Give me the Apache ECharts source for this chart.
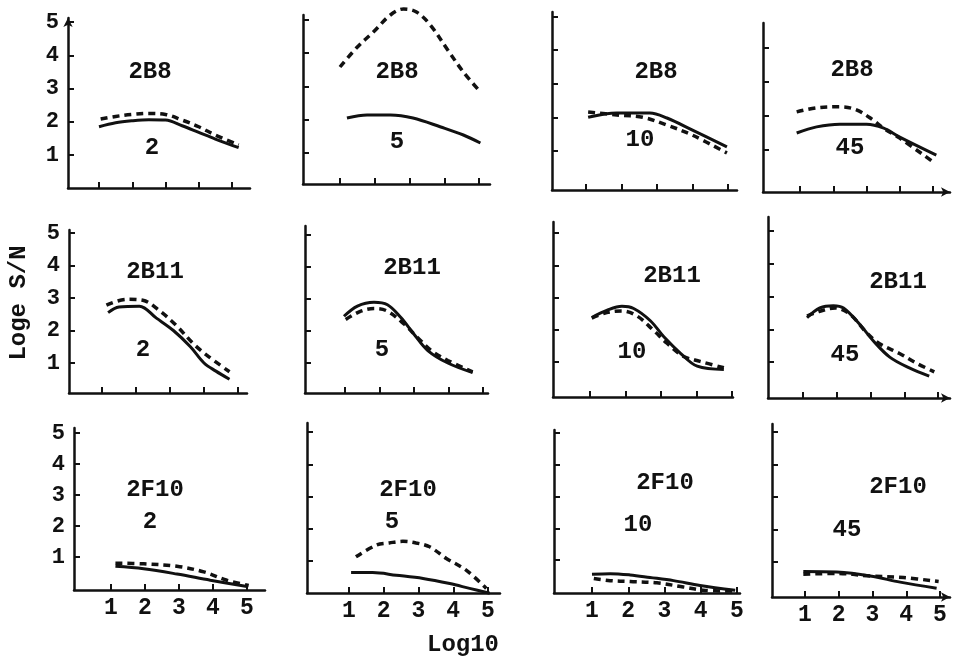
<!DOCTYPE html>
<html>
<head>
<meta charset="utf-8">
<style>
html, body { margin: 0; padding: 0; background: #fff; }
#main { width: 956px; height: 659px; }
</style>
</head>
<body>
<div id="main"></div>
<script src="https://cdn.jsdelivr.net/npm/echarts@6/dist/echarts.min.js"></script>
<script>
var samples = ['2B8', '2B11', '2F10'];
var doses = ['2', '5', '10', '45'];
var xTicks = [1, 2, 3, 4, 5];
var yTicks = [1, 2, 3, 4, 5];

// 2B8, solid / dashed, [log10, loge S/N]
var s2B8_2 = [[1.0, 1.85], [1.5, 1.97], [2, 2.03], [2.5, 2.06], [3, 2.05], [3.5, 1.88], [4, 1.68], [4.5, 1.48], [5.2, 1.22]];
var d2B8_2 = [[1.05, 2.08], [1.5, 2.16], [2, 2.22], [2.5, 2.25], [3, 2.22], [3.5, 2.05], [4, 1.85], [4.5, 1.6], [5.2, 1.3]];
var s2B8_5 = [[1.2, 2.05], [1.78, 2.14], [2.45, 2.14], [3.1, 2.05], [3.9, 1.78], [4.55, 1.54], [5.04, 1.3]];
var d2B8_5 = [[1.0, 3.58], [1.5, 4.18], [1.96, 4.63], [2.45, 5.14], [2.83, 5.32], [3.2, 5.23], [3.6, 4.84], [4.1, 4.09], [4.55, 3.43], [5.04, 2.83]];
var s2B8_10 = [[1.06, 2.0], [1.87, 2.13], [2.8, 2.13], [3.28, 1.98], [4.0, 1.62], [4.97, 1.12]];
var d2B8_10 = [[1.06, 2.16], [1.87, 2.07], [2.6, 2.0], [3.28, 1.77], [4.0, 1.47], [4.97, 0.94]];
var s2B8_45 = [[0.9, 1.5], [1.5, 1.68], [2.2, 1.76], [3.0, 1.76], [3.5, 1.65], [4.0, 1.38], [5.1, 0.85]];
var d2B8_45 = [[0.9, 2.12], [1.5, 2.24], [2.2, 2.27], [2.7, 2.18], [3.2, 1.88], [3.5, 1.65], [4.0, 1.35], [5.0, 0.65]];

// 2B11
var s2B11_2 = [[1.18, 2.55], [1.5, 2.72], [2.1, 2.75], [2.6, 2.38], [3.1, 2.0], [3.6, 1.5], [4.0, 1.0], [4.35, 0.75], [4.75, 0.5]];
var d2B11_2 = [[1.13, 2.78], [1.72, 2.96], [2.2, 2.93], [2.7, 2.6], [3.19, 2.15], [3.68, 1.6], [4.07, 1.25], [4.75, 0.73]];
var s2B11_5 = [[0.97, 2.46], [1.36, 2.78], [1.84, 2.9], [2.23, 2.82], [2.62, 2.42], [3.0, 1.9], [3.4, 1.39], [3.98, 1.0], [4.7, 0.7]];
var d2B11_5 = [[1.02, 2.36], [1.46, 2.62], [1.84, 2.7], [2.23, 2.62], [2.72, 2.21], [3.1, 1.8], [3.5, 1.39], [3.98, 1.08], [4.7, 0.72]];
var s2B11_10 = [[1.05, 2.38], [1.47, 2.6], [1.9, 2.73], [2.23, 2.66], [2.7, 2.28], [3.08, 1.78], [3.55, 1.27], [4.02, 0.87], [4.77, 0.77]];
var d2B11_10 = [[1.05, 2.36], [1.47, 2.53], [1.9, 2.58], [2.32, 2.43], [2.79, 1.98], [3.17, 1.58], [3.64, 1.17], [4.1, 1.02], [4.77, 0.82]];
var s2B11_45 = [[1.12, 2.35], [1.5, 2.65], [1.9, 2.72], [2.2, 2.65], [2.68, 2.15], [3.08, 1.65], [3.57, 1.15], [4.15, 0.82], [4.74, 0.57]];
var d2B11_45 = [[1.12, 2.4], [1.5, 2.55], [1.95, 2.65], [2.4, 2.45], [2.88, 1.9], [3.27, 1.56], [3.86, 1.26], [4.35, 0.97], [4.89, 0.7]];

// 2F10
var s2F10_2 = [[1.13, 0.7], [1.96, 0.62], [2.94, 0.45], [3.92, 0.25], [5.0, 0.05]];
var d2F10_2 = [[1.13, 0.8], [1.96, 0.78], [2.94, 0.7], [3.73, 0.52], [4.41, 0.25], [5.05, 0.08]];
var s2F10_5 = [[1.06, 0.64], [1.68, 0.64], [2.36, 0.56], [3.13, 0.46], [3.9, 0.3], [4.47, 0.15], [5.05, 0.0]];
var d2F10_5 = [[1.2, 1.13], [1.78, 1.49], [2.16, 1.56], [2.55, 1.61], [2.93, 1.56], [3.32, 1.44], [3.8, 1.08], [4.38, 0.71], [4.95, 0.15]];
var s2F10_10 = [[1.0, 0.55], [1.5, 0.57], [2.05, 0.53], [2.6, 0.45], [3.25, 0.35], [3.98, 0.2], [4.95, 0.05]];
var d2F10_10 = [[1.05, 0.42], [1.5, 0.35], [2.05, 0.32], [2.79, 0.28], [3.52, 0.15], [4.07, 0.05], [4.9, 0.02]];
var s2F10_45 = [[0.95, 0.71], [1.94, 0.69], [2.93, 0.57], [3.82, 0.38], [4.9, 0.19]];
var d2F10_45 = [[0.95, 0.62], [1.94, 0.65], [2.93, 0.57], [3.92, 0.52], [4.96, 0.4]];

var solidLines = [
    [s2B8_2, s2B8_5, s2B8_10, s2B8_45],
    [s2B11_2, s2B11_5, s2B11_10, s2B11_45],
    [s2F10_2, s2F10_5, s2F10_10, s2F10_45]
];
var dashLines = [
    [d2B8_2, d2B8_5, d2B8_10, d2B8_45],
    [d2B11_2, d2B11_5, d2B11_10, d2B11_45],
    [d2F10_2, d2F10_5, d2F10_10, d2F10_45]
];

// panel frames in px: axis x, axis y, x tick 1, x tick 5, y tick 1, top tick, top tick value, x end, y end
var frames = [
    [68, 188, 99, 232, 155, 22, 5, 250, 18],
    [303, 184, 340, 479, 153, 53, 4, 490, 15],
    [552, 190, 586, 728, 151, 50, 4, 737, 12],
    [763, 192, 800, 933, 150, 48, 4, 950, 23],
    [69, 393, 102, 238, 363, 233, 5, 247, 230],
    [305, 393, 345, 483, 363, 235, 5, 488, 226],
    [553, 397, 590, 732, 362, 233, 5, 733, 222],
    [768, 398, 803, 938, 362, 231, 5, 950, 217],
    [74, 590, 111, 247, 557, 433, 5, 265, 428],
    [307, 593, 349, 488, 561, 432, 5, 500, 423],
    [554, 593, 592, 737, 560, 433, 5, 740, 430],
    [772, 597, 805, 940, 562, 432, 5, 950, 424]
];
var namePos = [[150, 72], [397, 72], [656, 72], [852, 70], [155, 272], [412, 268], [672, 276], [898, 282], [155, 490], [408, 490], [665, 483], [898, 487]];
var dosePos = [[152, 148], [397, 142], [640, 140], [850, 148], [143, 350], [382, 350], [632, 352], [845, 355], [150, 522], [392, 522], [638, 525], [847, 530]];

var dom = document.getElementById("main");
var myChart = echarts.init(dom);
var option = null;

var ink = '#111';
var font = 'Liberation Mono';
var grids = [], xAxes = [], yAxes = [], series = [], graphics = [];

for (var r = 0; r < 3; r++) {
    for (var c = 0; c < 4; c++) {
        var i = r * 4 + c;
        var f = frames[i];
        var ux = (f[3] - f[2]) / 4;
        var uy = (f[4] - f[5]) / (f[6] - 1);
        var xMin = 1 - (f[2] - f[0]) / ux;
        var xMax = 1 + (f[7] - f[2]) / ux;
        var yMin = 1 - (f[1] - f[4]) / uy;
        var yMax = 1 + (f[4] - f[8]) / uy;
        var yt = yTicks.filter(function (v) { return v <= yMax + 0.01; });

        grids.push({ left: f[0], top: f[8], width: f[7] - f[0], height: f[1] - f[8] });
        xAxes.push({
            type: 'value', gridIndex: i, min: xMin, max: xMax,
            axisLine: { onZero: false, symbol: c === 3 ? ['none', 'arrow'] : 'none', symbolSize: [7, 9],
                lineStyle: { color: ink, width: 2.5 } },
            axisTick: { inside: true, length: 6, customValues: xTicks, lineStyle: { color: ink, width: 2 } },
            axisLabel: { show: r === 2, customValues: xTicks, margin: 7, color: ink,
                fontFamily: font, fontWeight: 'bold', fontSize: 23 },
            splitLine: { show: false }
        });
        yAxes.push({
            type: 'value', gridIndex: i, min: yMin, max: yMax,
            axisLine: { onZero: false, symbol: i === 0 ? ['none', 'arrow'] : 'none', symbolSize: [7, 9],
                lineStyle: { color: ink, width: 2.5 } },
            axisTick: { inside: true, length: 6, customValues: yt, lineStyle: { color: ink, width: 2 } },
            axisLabel: { show: c === 0, customValues: yt, margin: 9, color: ink,
                fontFamily: font, fontWeight: 'bold', fontSize: 22 },
            splitLine: { show: false }
        });
        series.push({
            type: 'line', xAxisIndex: i, yAxisIndex: i, data: solidLines[r][c],
            smooth: 0.35, symbol: 'none', clip: false, silent: true,
            lineStyle: { color: ink, width: 3 }
        });
        series.push({
            type: 'line', xAxisIndex: i, yAxisIndex: i, data: dashLines[r][c],
            smooth: 0.35, symbol: 'none', clip: false, silent: true,
            lineStyle: { color: ink, width: 3.5, type: [7, 5] }
        });
        graphics.push({
            type: 'text', x: namePos[i][0], y: namePos[i][1],
            style: { text: samples[r], fill: ink, font: 'bold 24px "' + font + '"', align: 'center', verticalAlign: 'middle' }
        });
        graphics.push({
            type: 'text', x: dosePos[i][0], y: dosePos[i][1],
            style: { text: doses[c], fill: ink, font: 'bold 24px "' + font + '"', align: 'center', verticalAlign: 'middle' }
        });
    }
}

graphics.push({
    type: 'text', x: 19, y: 303, rotation: Math.PI / 2,
    style: { text: 'Loge S/N', fill: ink, font: 'bold 24px "' + font + '"', align: 'center', verticalAlign: 'middle' }
});
graphics.push({
    type: 'text', x: 463, y: 645,
    style: { text: 'Log10', fill: ink, font: 'bold 24px "' + font + '"', align: 'center', verticalAlign: 'middle' }
});

option = {
    animation: false,
    backgroundColor: '#fff',
    grid: grids,
    xAxis: xAxes,
    yAxis: yAxes,
    series: series,
    graphic: graphics
};
if (option && typeof option === "object") {
    myChart.setOption(option, true);
}
</script>
</body>
</html>
